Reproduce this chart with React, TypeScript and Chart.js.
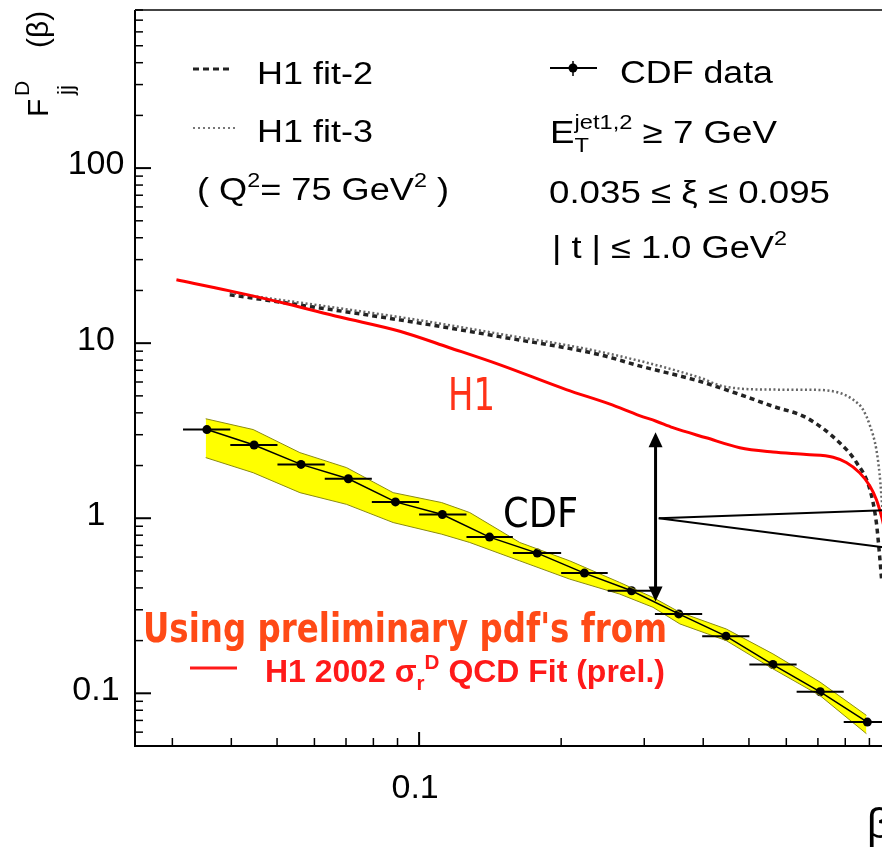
import React, { useEffect, useRef } from "react";
import { Chart, registerables } from "chart.js";
Chart.register(...registerables);

// ---------- data ----------
const cdfBeta = [0.0355, 0.0447, 0.0562, 0.0708, 0.0891, 0.112, 0.141, 0.178, 0.224, 0.282, 0.355, 0.447, 0.562, 0.708, 0.891];
const cdfF = [3.21, 2.62, 2.03, 1.68, 1.24, 1.05, 0.78, 0.632, 0.486, 0.385, 0.284, 0.212, 0.146, 0.102, 0.0685];
const cdfBinLow = [0.0316, 0.0398, 0.0501, 0.0631, 0.0794, 0.1, 0.126, 0.158, 0.2, 0.251, 0.316, 0.398, 0.501, 0.631, 0.794];
const cdfBinHigh = [0.0398, 0.0501, 0.0631, 0.0794, 0.1, 0.126, 0.158, 0.2, 0.251, 0.316, 0.398, 0.501, 0.631, 0.794, 1.0];

const bandBeta = [0.0353, 0.0445, 0.0559, 0.0702, 0.0881, 0.1116, 0.128, 0.1634, 0.2085, 0.266, 0.313, 0.357, 0.4476, 0.562, 0.707, 0.887];
const bandUpper = [3.7, 3.21, 2.37, 1.945, 1.4, 1.229, 1.078, 0.727, 0.571, 0.43, 0.353, 0.29, 0.233, 0.168, 0.116, 0.0748];
const bandLower = [2.22, 1.82, 1.4, 1.2, 0.945, 0.811, 0.727, 0.571, 0.449, 0.369, 0.31, 0.249, 0.2, 0.138, 0.0971, 0.0588];

const h1Beta = [0.0306, 0.0397, 0.0524, 0.0679, 0.091, 0.116, 0.148, 0.205, 0.253, 0.293, 0.318, 0.345, 0.406, 0.478, 0.562, 0.662, 0.754, 0.804, 0.858, 0.902, 0.931, 0.956, 0.975];
const h1F = [23.0, 19.9, 16.8, 14.1, 11.7, 9.42, 7.54, 5.43, 4.5, 3.86, 3.58, 3.29, 2.88, 2.53, 2.39, 2.31, 2.23, 2.08, 1.82, 1.53, 1.28, 1.01, 0.8];

const fit2Beta = [0.0397, 0.0616, 0.0955, 0.148, 0.241, 0.293, 0.393, 0.478, 0.562, 0.662, 0.778, 0.845, 0.902, 0.931, 0.946, 0.955];
const fit2F = [18.9, 15.9, 13.3, 10.9, 8.6, 7.42, 6.06, 5.09, 4.36, 3.75, 2.7, 2.08, 1.46, 0.945, 0.61, 0.45];

const fit3Beta = [0.0397, 0.0955, 0.148, 0.241, 0.393, 0.4406, 0.562, 0.695, 0.778, 0.831, 0.872, 0.902, 0.931, 0.946, 0.96, 0.975];
const fit3F = [19.4, 13.8, 11.3, 8.95, 6.36, 5.67, 5.43, 5.41, 5.2, 4.76, 4.18, 3.39, 2.47, 1.78, 1.1, 0.7];

const yMajorTicks = [0.1, 1, 10, 100];
const yMajorLabels = ["0.1", "1", "10", "100"];
const xMajorTicks = [0.1];
const xMajorLabels = ["0.1"];

// annotation anchors (data coordinates)
const arrowBeta = 0.317;
const arrowTopF = 3.1;
const arrowBottomF = 0.335;
const wedgeApex = { x: 0.322, y: 1.0 };
const wedgeEnds = [{ x: 1.0, y: 1.115 }, { x: 1.0, y: 0.673 }];

const FONT = '"Liberation Sans", Arial, Helvetica, sans-serif';
const CFONT = '"DejaVu Sans", "Noto Sans", sans-serif';

const zip = (xs: number[], ys: number[]) => xs.map((v, i) => ({ x: v, y: ys[i] }));

type Seg = { t: string; size: number; dy?: number; hold?: boolean };

function richText(ctx: CanvasRenderingContext2D, segs: Seg[], x: number, y: number, width: number | null, family: string, color: string, bold = false) {
  const fnt = (s: number) => `${bold ? "bold " : ""}${s}px ${family}`;
  let total = 0;
  for (const s of segs) {
    ctx.font = fnt(s.size);
    const w = ctx.measureText(s.t).width;
    if (!s.hold) total += w;
  }
  const k = width ? width / total : 1;
  ctx.save();
  ctx.fillStyle = color;
  ctx.textAlign = "left";
  ctx.textBaseline = "alphabetic";
  ctx.translate(x, y);
  ctx.scale(k, 1);
  let cx = 0;
  for (const s of segs) {
    ctx.font = fnt(s.size);
    ctx.fillText(s.t, cx, s.dy || 0);
    if (!s.hold) cx += ctx.measureText(s.t).width;
  }
  ctx.restore();
}

const decor = {
  id: "decor",
  afterDatasetsDraw(chart: any) {
    const { ctx, scales } = chart;
    const x = scales.x, y = scales.y;
    const ca = chart.chartArea;
    ctx.save();
    ctx.beginPath();
    ctx.rect(ca.left, ca.top, ca.right - ca.left, ca.bottom - ca.top);
    ctx.clip();
    ctx.strokeStyle = "#000";
    ctx.lineWidth = 2;
    for (let i = 0; i < cdfBeta.length; i++) {
      const py = y.getPixelForValue(cdfF[i]);
      ctx.beginPath();
      ctx.moveTo(x.getPixelForValue(cdfBinLow[i]), py);
      ctx.lineTo(x.getPixelForValue(cdfBinHigh[i]), py);
      ctx.stroke();
    }
    // wedge lines
    ctx.lineWidth = 2;
    const apx = x.getPixelForValue(wedgeApex.x), apy = y.getPixelForValue(wedgeApex.y);
    for (const e of wedgeEnds) {
      ctx.beginPath();
      ctx.moveTo(apx, apy);
      ctx.lineTo(x.getPixelForValue(e.x), y.getPixelForValue(e.y));
      ctx.stroke();
    }
    // double arrow
    const ax = x.getPixelForValue(arrowBeta);
    const at = y.getPixelForValue(arrowTopF);
    const ab = y.getPixelForValue(arrowBottomF);
    ctx.lineWidth = 3;
    ctx.beginPath();
    ctx.moveTo(ax, at + 12);
    ctx.lineTo(ax, ab - 12);
    ctx.stroke();
    ctx.fillStyle = "#000";
    ctx.beginPath();
    ctx.moveTo(ax, at); ctx.lineTo(ax - 7, at + 15); ctx.lineTo(ax + 7, at + 15); ctx.closePath(); ctx.fill();
    ctx.beginPath();
    ctx.moveTo(ax, ab); ctx.lineTo(ax - 7, ab - 15); ctx.lineTo(ax + 7, ab - 15); ctx.closePath(); ctx.fill();
    ctx.restore();
  },
  afterDraw(chart: any) {
    const { ctx, scales } = chart;
    const x = scales.x, y = scales.y;
    const ca = chart.chartArea;
    ctx.save();
    // frame
    ctx.strokeStyle = "#000";
    ctx.lineWidth = 2;
    ctx.beginPath();
    ctx.moveTo(ca.left, ca.top);
    ctx.lineTo(ca.left, ca.bottom);
    ctx.lineTo(ca.right, ca.bottom);
    ctx.stroke();
    ctx.strokeStyle = "#444";
    ctx.beginPath();
    ctx.moveTo(ca.left, ca.top);
    ctx.lineTo(ca.right, ca.top);
    ctx.lineTo(ca.right, ca.bottom);
    ctx.stroke();

    // y ticks
    ctx.strokeStyle = "#000";
    for (let e = -2; e <= 2; e++) {
      for (let m = 1; m <= 9; m++) {
        const v = m * Math.pow(10, e);
        if (v < y.min * 0.999 || v > y.max * 1.001) continue;
        const py = y.getPixelForValue(v);
        ctx.lineWidth = m === 1 ? 2 : 1.5;
        ctx.beginPath();
        ctx.moveTo(ca.left, py);
        ctx.lineTo(ca.left + (m === 1 ? 16 : 8), py);
        ctx.stroke();
      }
    }
    // x ticks
    for (let e = -2; e <= 0; e++) {
      for (let m = 1; m <= 9; m++) {
        const v = m * Math.pow(10, e);
        if (v < x.min * 0.999 || v > x.max * 1.001) continue;
        const px = x.getPixelForValue(v);
        ctx.lineWidth = m === 1 ? 2 : 1.5;
        ctx.beginPath();
        ctx.moveTo(px, ca.bottom);
        ctx.lineTo(px, ca.bottom - (m === 1 ? 14 : 8));
        ctx.stroke();
      }
    }
    // tick labels
    ctx.fillStyle = "#000";
    ctx.font = `34px ${FONT}`;
    ctx.textAlign = "center";
    ctx.textBaseline = "middle";
    yMajorTicks.forEach((v, i) => {
      ctx.fillText(yMajorLabels[i], 96, y.getPixelForValue(v) - 3);
    });
    xMajorTicks.forEach((v, i) => {
      ctx.fillText(xMajorLabels[i], x.getPixelForValue(v) - 4, 789);
    });

    // y title  F_jj^D (β)
    ctx.save();
    ctx.translate(48, 117);
    ctx.rotate(-Math.PI / 2);
    ctx.textAlign = "left";
    ctx.textBaseline = "alphabetic";
    ctx.font = `30px ${FONT}`;
    ctx.fillText("F", 0, 0);
    ctx.font = `21px ${FONT}`;
    ctx.fillText("D", 21, -19);
    ctx.font = `22px ${FONT}`;
    ctx.fillText("jj", 22, 25);
    ctx.font = `30px ${FONT}`;
    ctx.fillText("(\u03b2)", 69, 0);
    ctx.restore();

    // x title β
    ctx.textAlign = "left";
    ctx.textBaseline = "alphabetic";
    ctx.font = `42px ${FONT}`;
    ctx.fillText("\u03b2", 867, 838);

    // left legend
    ctx.lineWidth = 3;
    ctx.strokeStyle = "#222";
    ctx.setLineDash([6, 4]);
    ctx.beginPath(); ctx.moveTo(193, 69); ctx.lineTo(233, 69); ctx.stroke();
    ctx.lineWidth = 2;
    ctx.strokeStyle = "#777";
    ctx.setLineDash([2, 3]);
    ctx.beginPath(); ctx.moveTo(193, 128); ctx.lineTo(235, 128); ctx.stroke();
    ctx.setLineDash([]);
    richText(ctx, [{ t: "H1 fit-2", size: 31 }], 257, 84, 116, FONT, "#000");
    richText(ctx, [{ t: "H1 fit-3", size: 31 }], 257, 142, 116, FONT, "#000");
    richText(ctx, [
      { t: "( Q", size: 31 }, { t: "2", size: 20, dy: -13 }, { t: "= 75 GeV", size: 31 },
      { t: "2", size: 20, dy: -13 }, { t: " )", size: 31 },
    ], 197, 200, 252, FONT, "#000");

    // right legend
    ctx.strokeStyle = "#000";
    ctx.lineWidth = 2;
    ctx.beginPath(); ctx.moveTo(550, 68); ctx.lineTo(597, 68); ctx.stroke();
    ctx.lineWidth = 1.5;
    ctx.beginPath(); ctx.moveTo(573, 61); ctx.lineTo(573, 76); ctx.stroke();
    ctx.beginPath(); ctx.arc(573, 68, 4.5, 0, Math.PI * 2); ctx.fill();
    richText(ctx, [{ t: "CDF data", size: 31 }], 620, 83, 153, FONT, "#000");
    richText(ctx, [
      { t: "E", size: 31 }, { t: "T", size: 20, dy: 9, hold: true }, { t: "jet1,2", size: 20, dy: -14 },
      { t: " \u2265 7 GeV", size: 31 },
    ], 550, 143, 227, FONT, "#000");
    richText(ctx, [{ t: "0.035 \u2264 \u03be \u2264 0.095", size: 31 }], 549, 203, 281, FONT, "#000");
    richText(ctx, [{ t: "| t | \u2264 1.0 GeV", size: 31 }, { t: "2", size: 20, dy: -13 }], 552, 258, 235, FONT, "#000");

    // comic labels
    richText(ctx, [{ t: "H1", size: 45 }], 448, 410, 47, CFONT, "#ff3218");
    richText(ctx, [{ t: "CDF", size: 41 }], 503, 527, 75, CFONT, "#000");

    // red notes
    richText(ctx, [{ t: "Using preliminary pdf's from", size: 40 }], 143, 642, 524, CFONT, "#ff4a16", true);
    ctx.strokeStyle = "#ff1a1a";
    ctx.lineWidth = 3;
    ctx.beginPath(); ctx.moveTo(190, 668); ctx.lineTo(237, 668); ctx.stroke();
    richText(ctx, [
      { t: "H1 2002 \u03c3", size: 31 }, { t: "r", size: 20, dy: 8 }, { t: "D", size: 20, dy: -13 },
      { t: " QCD Fit (prel.)", size: 31 },
    ], 265, 682, 400, FONT, "#ff1a1a", true);

    ctx.restore();
  },
};

export default function App() {
  const ref = useRef<HTMLCanvasElement | null>(null);
  useEffect(() => {
    if (!ref.current) return;
    const chart = new Chart(ref.current, {
      type: "line",
      data: {
        datasets: [
          {
            data: zip(bandBeta, bandUpper),
            borderColor: "#8a8a10",
            borderWidth: 1,
            pointRadius: 0,
            fill: false,
            tension: 0,
          },
          {
            data: zip(bandBeta, bandLower),
            borderColor: "#8a8a10",
            borderWidth: 1,
            pointRadius: 0,
            fill: "-1",
            backgroundColor: "#ffff00",
            tension: 0,
          },
          {
            data: zip(cdfBeta, cdfF),
            borderColor: "#000",
            borderWidth: 1.5,
            pointRadius: 4.5,
            pointBackgroundColor: "#000",
            pointBorderWidth: 0,
            fill: false,
            tension: 0,
          },
          {
            data: zip(h1Beta, h1F),
            borderColor: "#ff0000",
            borderWidth: 3,
            pointRadius: 0,
            fill: false,
            cubicInterpolationMode: "monotone",
          },
          {
            data: zip(fit3Beta, fit3F),
            borderColor: "#666",
            borderWidth: 2.5,
            borderDash: [2, 2.5],
            pointRadius: 0,
            fill: false,
            cubicInterpolationMode: "monotone",
          },
          {
            data: zip(fit2Beta, fit2F),
            borderColor: "#222",
            borderWidth: 3.5,
            borderDash: [5, 4],
            pointRadius: 0,
            fill: false,
            cubicInterpolationMode: "monotone",
          },
        ] as any,
      },
      options: {
        animation: false,
        responsive: false,
        devicePixelRatio: 1,
        events: [],
        layout: { padding: { left: 135, top: 10, right: 9, bottom: 103 } },
        plugins: {
          legend: { display: false },
          tooltip: { enabled: false },
          filler: { drawTime: "beforeDatasetsDraw" },
        } as any,
        scales: {
          x: { type: "logarithmic", min: 0.025, max: 1, display: false },
          y: { type: "logarithmic", min: 0.05, max: 800, display: false },
        },
      },
      plugins: [decor],
    });
    return () => chart.destroy();
  }, []);
  return (
    <div style={{ position: "fixed", left: 0, top: 0, width: 882, height: 849, overflow: "hidden", background: "#fff" }}>
      <canvas ref={ref} width={900} height={849} style={{ display: "block", width: 900, height: 849 }} />
    </div>
  );
}
